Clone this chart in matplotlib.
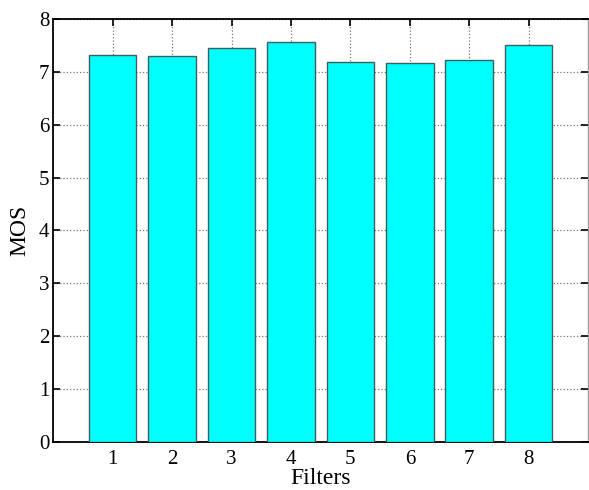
import matplotlib
matplotlib.use("Agg")
import matplotlib.pyplot as plt

filters = [1, 2, 3, 4, 5, 6, 7, 8]
mos = [7.32, 7.31, 7.45, 7.57, 7.20, 7.17, 7.22, 7.52]

plt.rcParams["font.family"] = ["Liberation Serif", "DejaVu Serif"]

fig = plt.figure(figsize=(5.89, 4.90), dpi=100)
ax = fig.add_axes([0.0905, 0.0986, 0.908, 0.862])

ax.bar(filters, mos, width=0.8, color="#00FFFF", edgecolor="#3A6060", lw=1.0, zorder=3)

ax.set_xlim(0, 9)
ax.set_ylim(0, 8)
ax.set_xticks(filters)
ax.set_yticks(range(0, 9))
ax.grid(True, ls=":", color="#777777", lw=0.9, zorder=0)
ax.set_axisbelow(True)
ax.tick_params(direction="in", top=True, right=True, length=5, width=1.2,
               labelsize=15)
ax.tick_params(axis="x", pad=6)
ax.tick_params(axis="y", pad=3)
for s in ["left", "bottom", "top"]:
    ax.spines[s].set_linewidth(1.3)
    ax.spines[s].set_color("black")
ax.spines["right"].set_color("#999999")
ax.spines["right"].set_linewidth(1.0)

ax.set_xlabel("Filters", fontsize=17, labelpad=-1)
ax.set_ylabel("MOS", fontsize=17, labelpad=6)

fig.savefig("out.png", dpi=100)
